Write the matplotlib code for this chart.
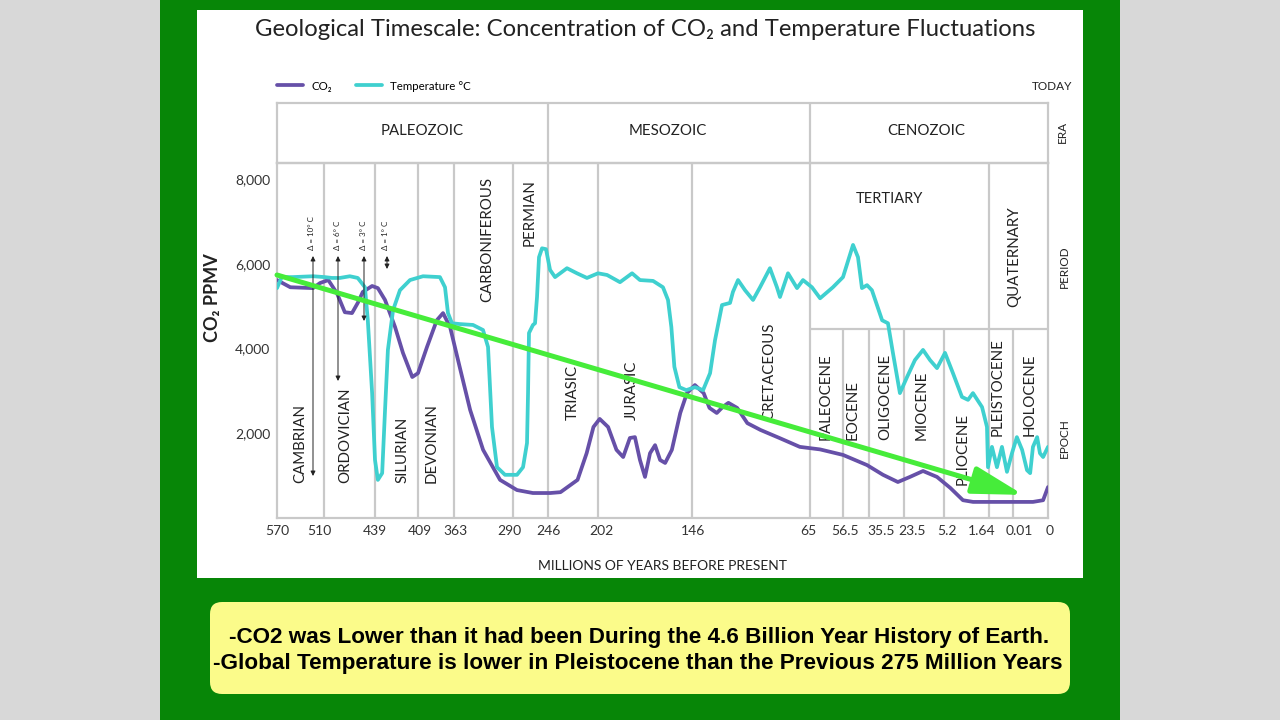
import numpy as np
import matplotlib
matplotlib.use("Agg")
import matplotlib.pyplot as plt
from matplotlib.patches import Rectangle, FancyBboxPatch, ArrowStyle
from matplotlib.transforms import IdentityTransform
from matplotlib.ticker import NullLocator

plt.rcParams['font.family'] = ['Lato', 'DejaVu Sans']

# ---------------- data ----------------
boundary_ages = [570, 510, 439, 409, 363, 290, 246, 202, 146, 65, 56.5, 35.5, 23.5, 5.2, 1.64, 0.01, 0]
tick_labels = ["570", "510", "439", "409", "363", "290", "246", "202", "146", "65",
               "56.5", "35.5", "23.5", "5.2", "1.64", "0.01", "0"]
y_ticks = [2000, 4000, 6000, 8000]
y_tick_labels = ["2,000", "4,000", "6,000", "8,000"]

eras = ["PALEOZOIC", "MESOZOIC", "CENOZOIC"]
era_bounds = [246, 65]
period_bounds = [510, 439, 409, 363, 290, 246, 202, 146, 65, 1.64]
epoch_bounds = [56.5, 35.5, 23.5, 5.2, 0.01]
epoch_top = 4470
periods = ["CAMBRIAN", "ORDOVICIAN", "SILURIAN", "DEVONIAN", "CARBONIFEROUS", "PERMIAN",
           "TRIASIC", "JURASIC", "CRETACEOUS", "TERTIARY", "QUATERNARY"]
epochs = ["PALEOCENE", "EOCENE", "OLIGOCENE", "MIOCENE", "PLIOCENE", "PLEISTOCENE", "HOLOCENE"]
delta_labels = ["Δ = 10° C", "Δ = 6° C", "Δ = 3° C", "Δ = 1° C"]

co2_age = [570, 553, 524, 515, 504, 492, 481, 471, 463, 456, 443, 437, 432, 425, 419.5, 413, 409,
           397.5, 385, 377, 368, 356, 343, 327, 306, 285, 265, 244, 235, 220, 212, 206, 201, 196,
           191, 187, 183, 180, 177, 174, 171, 168, 165, 162, 158, 153, 149, 144, 138, 134, 129,
           125, 121, 115, 108, 99, 86, 72, 62.4, 56.5, 37.1, 30.7, 25.6, 20.8, 14.8, 8.4, 4.7,
           3.7, 2.9, 1.37, 0.01, 0.0043, 0.0014, 0]
co2_ppmv = [5620, 5450, 5430, 5550, 5620, 5310, 4860, 4840, 5080, 5340, 5480, 5430, 5150, 4510,
            3900, 3330, 3420, 4040, 4670, 4840, 4510, 3570, 2550, 1610, 900, 660, 590, 590, 610,
            900, 1530, 2150, 2340, 2150, 1610, 1440, 1890, 1910, 1370, 970, 1530, 1720, 1370,
            1300, 1610, 2480, 2950, 3140, 2950, 2600, 2480, 2620, 2720, 2600, 2240, 2080, 1890,
            1680, 1620, 1490, 1250, 1020, 850, 970, 1110, 970, 710, 420, 380, 380, 380, 380,
            420, 730]

temp_age = [570, 564, 550, 524, 509, 499, 488, 474, 463, 453, 449, 443, 439, 437, 434, 432, 430,
            426.4, 421.6, 414.6, 402.6, 381, 374.5, 370.7, 365.6, 355.6, 339.5, 327.1, 320.9,
            316, 309.8, 299.9, 285, 277.4, 272.4, 271.1, 269.9, 264.9, 262.3, 259.8, 257.3,
            253.5, 248.5, 244.2, 239.8, 229.3, 220.5, 211.7, 202, 196.6, 188.9, 181.7, 177,
            169.2, 163.3, 160.3, 158.3, 156.5, 153.5, 149.4, 144, 138.4, 133.6, 130.2, 125.4,
            119.9, 117.9, 114.4, 109.6, 104.1, 99.3, 92.5, 87.7, 85.6, 80.1, 73.9, 69.8, 64.5,
            62.4, 59.1, 56.5, 48.4, 44.4, 41.2, 37.1, 34.5, 31.0, 29.0, 27.3, 24.9, 22.1, 18.5,
            14.8, 11.6, 8.4, 5.12, 4.49, 3.78, 3.3, 2.91, 2.19, 1.8, 1.72, 1.44, 1.1, 0.76, 0.42,
            0.08, 0.0089, 0.0074, 0.006, 0.0051, 0.0043, 0.0031, 0.0023, 0.0014, 0]
temp_level = [5430, 5690, 5690, 5710, 5690, 5670, 5670, 5710, 5670, 5450, 4670, 2950, 1370, 900,
              1060, 2550, 3970, 4910, 5380, 5620, 5710, 5690, 5450, 4840, 4600, 4580, 4560, 4440,
              4040, 2150, 1200, 1020, 1020, 1200, 1770, 2950, 4370, 4560, 4600, 5220, 6160, 6370,
              6350, 5860, 5690, 5900, 5780, 5670, 5780, 5740, 5570, 5780, 5620, 5600, 5450, 5150,
              4510, 3570, 3090, 3020, 3090, 3020, 3420, 4200, 5030, 5080, 5340, 5620, 5380, 5150,
              5450, 5900, 5450, 5220, 5780, 5430, 5620, 5450, 5190, 5450, 5690, 6450, 6160, 5430,
              5500, 5380, 4670, 4600, 3900, 2950, 3330, 3730, 3970, 3730, 3540, 3900, 3420, 2860,
              2790, 2950, 2620, 2150, 1200, 1680, 1200, 1680, 1090, 1530, 1910, 1610, 1130, 1060,
              1680, 1910, 1530, 1440, 1680]

trend_start = (570, 5740)
trend_end = (0.007, 545)

title = "Geological Timescale: Concentration of CO₂ and Temperature Fluctuations"
note_1 = "-CO2 was Lower than it had been During the 4.6 Billion Year History of Earth."
note_2 = "-Global Temperature is lower in Pleistocene than the Previous 275 Million Years"

# ---------------- layout / styles ----------------
W, H = 1280, 720
AX_L, AX_R, AX_T, AX_B = 277, 1048, 163, 518
ERA_T = 103
frame_px = [277, 324, 375, 418, 454, 513, 548, 598, 692, 810, 843, 869, 904, 944, 989, 1013, 1048]
tick_label_px = [277, 319, 375, 420, 455, 509, 548, 601, 693, 808, 845, 881, 912, 947, 982, 1019, 1050]

ages_asc = np.array(boundary_ages[::-1], float)
u_asc = np.array([(AX_R - p) / (AX_R - AX_L) for p in frame_px[::-1]])


def _pw(x, xp, fp):
    x = np.asarray(x, float)
    out = np.interp(x, xp, fp)
    lo_slope = (fp[1] - fp[0]) / (xp[1] - xp[0])
    hi_slope = (fp[-1] - fp[-2]) / (xp[-1] - xp[-2])
    out = np.where(x < xp[0], fp[0] + (x - xp[0]) * lo_slope, out)
    out = np.where(x > xp[-1], fp[-1] + (x - xp[-1]) * hi_slope, out)
    return out


def fwd(a):
    return _pw(a, ages_asc, u_asc)


def inv(u):
    return _pw(u, u_asc, ages_asc)


def ax_pt(px, py):
    return (px - AX_L) / (AX_R - AX_L), (AX_B - py) / (AX_B - AX_T)


def era_pt(px, py):
    return (px - AX_L) / (AX_R - AX_L), (AX_T - py) / (AX_T - ERA_T)


GRID = '#c9c9c9'
TXT = '#222222'
PURPLE = '#6650a8'
TEAL = '#3fd0cf'
GREEN = '#46ec3a'

fig = plt.figure(figsize=(W / 100, H / 100), dpi=100)
fig.patch.set_facecolor('#d8d8d8')
fig.add_artist(Rectangle((160 / W, 0), 960 / W, 1, transform=fig.transFigure,
                         facecolor='#078607', edgecolor='none', zorder=-3))
fig.add_artist(Rectangle((197 / W, 1 - 578 / H), 886 / W, 568 / H, transform=fig.transFigure,
                         facecolor='white', edgecolor='none', zorder=-2))
fig.add_artist(FancyBboxPatch((210, H - 694), 860, 92, boxstyle='round,pad=0,rounding_size=12',
                              transform=IdentityTransform(), facecolor='#fbfb8a',
                              edgecolor='none', zorder=-2))

# main axes
ax = fig.add_axes([AX_L / W, 1 - AX_B / H, (AX_R - AX_L) / W, (AX_B - AX_T) / H])
ax.set_facecolor('none')
ax.set_xscale('function', functions=(fwd, inv))
ax.set_xlim(570, 0)
ax.set_ylim(0, 8385)
ax.set_xticks(boundary_ages)
ax.xaxis.set_minor_locator(NullLocator())
ax.set_yticks(y_ticks)
ax.set_yticklabels(y_tick_labels)
ax.tick_params(axis='both', length=0, labelsize=10, labelcolor='#333333')
ax.tick_params(axis='x', labelbottom=False)
ax.tick_params(axis='y', pad=5)
for s in ax.spines.values():
    s.set_color(GRID)
    s.set_linewidth(1.6)

# x tick labels, nudged apart as in the reference
for lab, px in zip(tick_labels, tick_label_px):
    ax.text(ax_pt(px, 0)[0], ax_pt(0, 531)[1], lab, ha='center', va='center', fontsize=10,
            color='#333333', transform=ax.transAxes, clip_on=False)

for b in period_bounds:
    ax.axvline(b, color=GRID, lw=1.6, zorder=1)
ax.vlines(epoch_bounds, 0, epoch_top, color=GRID, lw=1.6, zorder=1)
ax.hlines(epoch_top, 65, 0, color=GRID, lw=1.6, zorder=1)

l_co2, = ax.plot(co2_age, co2_ppmv, color=PURPLE, lw=2.7, solid_joinstyle='round',
                 solid_capstyle='round', zorder=3, label='CO₂')
l_temp, = ax.plot(temp_age, temp_level, color=TEAL, lw=2.7, solid_joinstyle='round',
                  solid_capstyle='round', zorder=3, label='Temperature °C')

ax.annotate('', xy=trend_end, xytext=trend_start, xycoords='data', textcoords='data',
            arrowprops=dict(arrowstyle=ArrowStyle('-|>', head_length=1.55, head_width=0.42),
                            mutation_scale=20, lw=3.6, color=GREEN, shrinkA=0, shrinkB=0),
            annotation_clip=False, zorder=5)

# period / epoch labels (reference pixel positions)
LFS = 10.8
lab_kw = dict(rotation=90, fontsize=LFS, color=TXT, transform=ax.transAxes, ha='center', zorder=2)
period_pos = [(300, 483, 'bottom'), (345, 483, 'bottom'), (402, 483, 'bottom'), (432, 483, 'bottom'),
              (487, 177, 'top'), (530, 179, 'top'), (573, 420, 'bottom'), (632, 420, 'bottom'),
              (769, 420, 'bottom')]
for name, (px, py, va) in zip(periods[:9], period_pos):
    ax.text(*ax_pt(px, py), name, va=va, **lab_kw)
ax.text(*ax_pt(889, 199), periods[9], ha='center', va='center', fontsize=10.5, color=TXT,
        transform=ax.transAxes)
ax.text(*ax_pt(1014, 257), periods[10], va='center', **lab_kw)
epoch_pos = [(826, 440), (853, 440), (885, 440), (922, 440), (963, 485), (998, 436), (1030, 436)]
for name, (px, py) in zip(epochs, epoch_pos):
    ax.text(*ax_pt(px, py), name, va='bottom', **lab_kw)

# delta arrows
delta_px = [313, 338, 364, 387]
delta_low = [476, 381, 321, 269]
for lab, px, pb in zip(delta_labels, delta_px, delta_low):
    ax.annotate('', xy=ax_pt(px, 256), xytext=ax_pt(px, pb), xycoords='axes fraction',
                textcoords='axes fraction',
                arrowprops=dict(arrowstyle='<|-|>', color='#222222', lw=0.7, mutation_scale=7,
                                shrinkA=0, shrinkB=0))
    ax.text(*ax_pt(px - 1, 250), lab, rotation=90, ha='center', va='bottom', fontsize=5.8,
            color=TXT, transform=ax.transAxes)

# era axes
ax_era = fig.add_axes([AX_L / W, 1 - AX_T / H, (AX_R - AX_L) / W, (AX_T - ERA_T) / H])
ax_era.set_facecolor('none')
ax_era.set_xscale('function', functions=(fwd, inv))
ax_era.set_xlim(570, 0)
ax_era.set_ylim(0, 1)
ax_era.set_xticks([])
ax_era.set_yticks([])
ax_era.xaxis.set_minor_locator(NullLocator())
for s in ax_era.spines.values():
    s.set_color(GRID)
    s.set_linewidth(1.6)
for b in era_bounds:
    ax_era.axvline(b, color=GRID, lw=1.6)
for name, px in zip(eras, [422, 668, 926]):
    ax_era.text(*era_pt(px, 131), name, ha='center', va='center', fontsize=10.8, color=TXT,
                transform=ax_era.transAxes)

# side labels
fig.text(1052 / W, 1 - 86 / H, 'TODAY', ha='center', va='center', fontsize=8.5, color=TXT)
fig.text(1062 / W, 1 - 132 / H, 'ERA', ha='center', va='center', fontsize=8.5, color=TXT, rotation=90)
fig.text(1064 / W, 1 - 267 / H, 'PERIOD', ha='center', va='center', fontsize=8.5, color=TXT, rotation=90)
fig.text(1064 / W, 1 - 438 / H, 'EPOCH', ha='center', va='center', fontsize=8.5, color=TXT, rotation=90)

# titles
fig.text(645 / W, 1 - 29 / H, title, ha='center', va='center', fontsize=17.2, color=TXT)
fig.text(212 / W, 1 - 298 / H, 'CO₂ PPMV', ha='center', va='center', fontsize=13,
         fontweight='bold', color=TXT, rotation=90)
fig.text(663 / W, 1 - 566 / H, 'MILLIONS OF YEARS BEFORE PRESENT', ha='center', va='center',
         fontsize=10, color=TXT)

fig.legend(handles=[l_co2, l_temp], loc='center left', bbox_to_anchor=(277 / W, 1 - 86 / H),
           ncol=2, frameon=False, fontsize=8.3, handlelength=2.25, columnspacing=2.1,
           handletextpad=0.7, borderpad=0, borderaxespad=0)

note_font = ['Liberation Sans', 'DejaVu Sans']
fig.text(639 / W, 1 - 638 / H, note_1, ha='center', va='center', fontsize=16.2, fontweight='bold',
         family=note_font, color='black')
fig.text(638 / W, 1 - 664 / H, note_2, ha='center', va='center', fontsize=16.2, fontweight='bold',
         family=note_font, color='black')

fig.savefig('out.png', dpi=100, facecolor=fig.get_facecolor())
